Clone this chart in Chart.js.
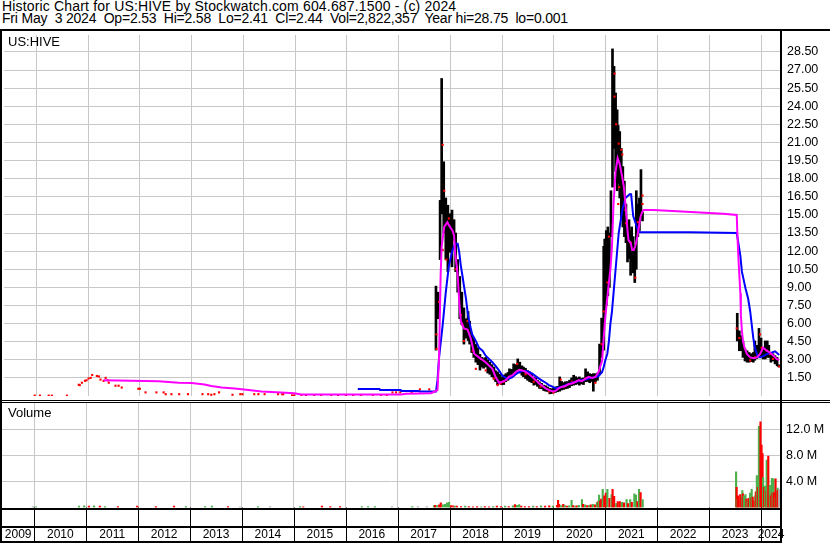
<!DOCTYPE html>
<html lang="en">
<head>
<meta charset="UTF-8">
<title>US:HIVE Historic Chart</title>
<script src="https://cdn.jsdelivr.net/npm/chart.js"></script>
<style>
  body { margin: 0; background: #fff; font-family: Arial, "Liberation Sans", sans-serif; }
  #page { position: relative; width: 830px; height: 543px; overflow: hidden; background: #fff; }
  .hdr { position: absolute; left: 2px; font-size: 14px; line-height: 13px; white-space: pre; color: #000; }
  .rule { position: absolute; background: #000; }
  .tag { position: absolute; left: 8px; color: #000; white-space: pre; font-size: 13px; }
  #priceBox { position: absolute; left: 0; top: 31px; width: 830px; height: 369px; }
  #volBox { position: absolute; left: 0; top: 403px; width: 830px; height: 140px; }
</style>
</head>
<body>
<div id="page">
  <div class="hdr" style="top:0;letter-spacing:0.17px">Historic Chart for US:HIVE by Stockwatch.com 604.687.1500 - (c) 2024</div>
  <div class="hdr" style="top:12px;letter-spacing:-0.2px">Fri May  3 2024  Op=2.53  Hi=2.58  Lo=2.41  Cl=2.44  Vol=2,822,357  Year hi=28.75  lo=0.001</div>

  <div id="priceBox"><canvas id="priceChart"></canvas></div>
  <div id="volBox"><canvas id="volChart"></canvas></div>

  <div class="tag" style="top:34px">US:HIVE</div>
  <div class="tag" style="top:405px">Volume</div>

  <!-- frame -->
  <div class="rule" style="left:0;top:29px;width:830px;height:2px"></div>
  <div class="rule" style="left:0;top:29px;width:2px;height:514px"></div>
  <div class="rule" style="left:780px;top:29px;width:2px;height:514px"></div>
  <div class="rule" style="left:0;top:400px;width:830px;height:1px"></div>
  <div class="rule" style="left:0;top:402px;width:830px;height:1px"></div>
  <div class="rule" style="left:0;top:508px;width:782px;height:2px"></div>
  <div class="rule" style="left:0;top:541px;width:782px;height:2px"></div>
</div>

<script>
// ---- data (dates are decimal years) ----
const yearLabels = [2009, 2010, 2011, 2012, 2013, 2014, 2015, 2016, 2017, 2018, 2019, 2020, 2021, 2022, 2023, 2024];
const yearGrid = [2010, 2011, 2012, 2013, 2014, 2015, 2016, 2017, 2018, 2019, 2020, 2021, 2022, 2023, 2024];
const priceTicks = [1.5, 3, 4.5, 6, 7.5, 9, 10.5, 12, 13.5, 15, 16.5, 18, 19.5, 21, 22.5, 24, 25.5, 27, 28.5];
const volTicks = [4, 8, 12];

// daily high-low bars
const barDates = [
  2017.72, 2017.76, 2017.80, 2017.83, 2017.87, 2017.91, 2017.95, 2017.99, 2018.03, 2018.07,
  2018.10, 2018.14, 2018.18, 2018.22, 2018.26, 2018.30, 2018.34, 2018.37, 2018.41, 2018.45,
  2018.49, 2018.53, 2018.57, 2018.61, 2018.64, 2018.68, 2018.72, 2018.76, 2018.80, 2018.84,
  2018.87, 2018.91, 2018.95, 2018.99, 2019.03,
  2019.07, 2019.11, 2019.14, 2019.18, 2019.22, 2019.26, 2019.30, 2019.34, 2019.38, 2019.41,
  2019.45, 2019.49, 2019.53, 2019.57, 2019.61, 2019.65, 2019.68, 2019.72, 2019.76, 2019.80,
  2019.84, 2019.88, 2019.92, 2019.95, 2019.99, 2020.03, 2020.07, 2020.11, 2020.15, 2020.19,
  2020.22, 2020.26, 2020.30, 2020.34, 2020.38, 2020.42, 2020.45, 2020.49, 2020.53, 2020.57,
  2020.61, 2020.65, 2020.69, 2020.72, 2020.76, 2020.80, 2020.84, 2020.88, 2020.92, 2020.96,
  2020.98, 2021.01, 2021.04, 2021.07, 2021.10, 2021.13, 2021.16, 2021.19, 2021.22, 2021.24,
  2021.27, 2021.30, 2021.33, 2021.36, 2021.39, 2021.42, 2021.45, 2021.48, 2021.50, 2021.53,
  2021.56, 2021.59, 2021.62, 2021.65, 2021.68, 2021.71,
  2023.54, 2023.58, 2023.61, 2023.65, 2023.69, 2023.73, 2023.77, 2023.81, 2023.85, 2023.88,
  2023.92, 2023.96, 2024.00, 2024.04, 2024.08, 2024.12, 2024.15, 2024.19, 2024.23, 2024.27,
  2024.31, 2024.34
];
const barLows = [
  3.8, 6.4, 11.3, 15.1, 13.5, 11.3, 10.3, 11.9, 10.7, 12.9,
  10.3, 8.6, 6.4, 5.9, 4.3, 4.8, 4.6, 4.3, 3.6, 3.2,
  2.8, 2.6, 2.15, 2.4, 2.3, 2.4, 1.9, 1.8, 1.6, 1.4,
  1.2, 0.93, 1.0, 0.93, 0.95,
  1.18, 1.3, 1.44, 1.5, 1.72, 1.8, 2.0, 1.9, 1.72, 1.6,
  1.44, 1.3, 1.18, 1.1, 0.9, 0.95, 0.8, 0.63, 0.6, 0.45,
  0.4, 0.37, 0.18, 0.2, 0.26, 0.3, 0.35, 0.4, 0.5, 0.55,
  0.6, 0.63, 0.7, 0.85, 0.9, 0.95, 1.0, 0.9, 1.0, 0.95,
  1.18, 1.2, 1.1, 1.2, 0.4, 1.18, 1.3, 1.85, 3.2, 3.8,
  6.5, 7.5, 8.3, 9.0, 13.2, 17.3, 20.5, 18.6, 17.0, 17.6,
  16.4, 14.8, 14.0, 13.2, 12.7, 11.1, 11.4, 10.0, 11.1, 10.2,
  9.4, 10.5, 13.2, 13.7, 14.8, 14.5,
  4.56, 3.75, 3.75, 3.2, 2.9, 2.8, 2.8, 2.85, 2.8, 2.96,
  3.1, 3.47, 3.34, 3.07, 3.07, 3.2, 3.2, 2.8, 2.9, 2.66,
  2.5, 2.41
];
const barHighs = [
  9.1, 8.6, 16.2, 26.3, 19.4, 16.4, 15.8, 15.1, 15.4, 14.6,
  13.5, 11.3, 9.9, 8.6, 7.3, 6.4, 7.0, 6.2, 5.2, 4.8,
  4.3, 4.0, 3.45, 3.2, 3.1, 3.2, 3.0, 2.8, 2.6, 2.4,
  2.1, 2.0, 1.8, 1.6, 1.74,
  1.85, 1.95, 2.25, 2.2, 2.66, 2.6, 3.07, 2.8, 2.5, 2.4,
  2.3, 2.1, 2.0, 1.8, 1.58, 1.5, 1.3, 1.18, 1.05, 0.9,
  0.85, 0.75, 0.63, 0.6, 0.65, 0.75, 0.8, 1.58, 1.2, 1.1,
  1.18, 1.2, 1.31, 1.5, 1.72, 1.6, 1.5, 1.58, 1.45, 1.5,
  2.25, 2.0, 1.85, 1.8, 1.85, 1.85, 1.9, 4.3, 6.45, 12.4,
  13.0, 13.7, 14.0, 13.5, 17.0, 28.75, 27.3, 25.1, 23.7, 22.4,
  21.9, 20.5, 19.0, 17.8, 15.9, 14.3, 14.6, 13.7, 14.0, 13.2,
  12.5, 17.0, 15.9, 16.4, 18.75, 15.2,
  6.85, 5.4, 5.0, 4.56, 3.9, 3.75, 3.6, 3.5, 3.6, 4.56,
  4.2, 5.6, 4.8, 4.0, 4.56, 4.56, 4.2, 3.6, 3.5, 3.34,
  3.2, 2.58
];

// closing prices (red ticks)
const closeDates = [
  2009.97, 2010.07, 2010.24, 2010.30, 2010.59, 2010.82, 2010.84, 2010.88, 2010.94, 2010.97,
  2011.01, 2011.05, 2011.08, 2011.17, 2011.21, 2011.24, 2011.30, 2011.34, 2011.38, 2011.40,
  2011.53, 2011.59, 2011.65, 2011.97, 2012.00, 2012.11, 2012.32, 2012.46, 2012.50, 2012.61,
  2012.76, 2012.93, 2013.21, 2013.32, 2013.38, 2013.44, 2013.53, 2013.79, 2013.94, 2013.98,
  2014.21, 2014.29, 2014.41, 2014.67, 2014.75, 2014.77, 2014.94, 2014.98, 2015.12, 2015.21,
  2015.37, 2015.50, 2015.70, 2015.83, 2015.98, 2016.12, 2016.27, 2016.50, 2016.66, 2016.77,
  2016.88, 2016.95, 2017.03, 2017.25, 2017.41, 2017.59,
  2017.73, 2017.73, 2017.78, 2017.85, 2017.85, 2017.88, 2017.92, 2017.97, 2018.10, 2018.20,
  2018.23, 2018.26, 2018.33, 2018.43, 2018.49, 2018.59, 2018.68, 2018.84, 2018.91, 2018.97,
  2019.03, 2019.23, 2019.29, 2019.45, 2019.61, 2019.74, 2019.90, 2019.99, 2020.13, 2020.19,
  2020.35, 2020.61, 2020.80, 2020.92, 2020.96, 2021.03, 2021.06, 2021.17, 2021.17, 2021.20,
  2021.25, 2021.30, 2021.32, 2021.26, 2021.24, 2021.38, 2021.39, 2021.48, 2021.57, 2021.64,
  2021.62, 2021.71, 2021.71,
  2023.53, 2023.58, 2023.79, 2023.88, 2023.98, 2024.01, 2024.11, 2024.17, 2024.23, 2024.35
];
const closeValues = [
  0.03, 0.03, 0.03, 0.03, 0.03, 0.93, 0.9, 1.1, 1.26, 1.3,
  1.45, 1.5, 1.74, 1.66, 1.62, 1.36, 1.25, 1.5, 1.3, 1.1,
  0.85, 0.85, 0.7, 0.6, 0.6, 0.3, 0.3, 0.3, 0.15, 0.15,
  0.15, 0.15, 0.15, 0.15, 0.1, 0.15, 0.3, 0.1, 0.15, 0.15,
  0.15, 0.15, 0.15, 0.15, 0.15, 0.15, 0.05, 0.05, 0.03, 0.03,
  0.03, 0.03, 0.03, 0.03, 0.03, 0.03, 0.03, 0.03, 0.03, 0.03,
  0.3, 0.3, 0.3, 0.3, 0.55, 0.55,
  5.1, 3.9, 7.8, 20.8, 12.1, 17.0, 11.3, 14.7, 10.5, 6.7,
  5.9, 4.56, 6.2, 3.75, 2.25, 3.07, 2.12, 1.44, 0.9, 1.04,
  1.18, 1.72, 2.66, 1.8, 1.18, 0.77, 0.37, 0.28, 1.36, 0.77,
  1.18, 1.44, 1.1, 4.3, 7.0, 9.4, 13.2, 26.7, 24.8, 22.5,
  20.9, 20.4, 20.0, 17.3, 15.9, 15.4, 14.3, 12.7, 9.8, 13.7,
  14.4, 16.6, 15.9,
  5.6, 4.8, 2.94, 3.2, 5.1, 4.0, 3.75, 3.47, 3.07, 2.44
];

// short moving average (magenta)
const maFastDates = [
  2011.30, 2012.36, 2012.75, 2013.00, 2013.25, 2013.38, 2013.58, 2013.83, 2014.10, 2014.35,
  2014.73, 2014.98, 2015.12, 2017.04, 2017.14, 2017.62, 2017.70, 2017.75, 2017.78, 2017.81,
  2017.83, 2017.88, 2017.94, 2017.97, 2018.04, 2018.07, 2018.09, 2018.12, 2018.14, 2018.17,
  2018.20, 2018.26, 2018.33, 2018.39, 2018.46, 2018.55, 2018.68, 2018.81, 2018.87, 2018.94,
  2019.00, 2019.07, 2019.13, 2019.20, 2019.26, 2019.33, 2019.39, 2019.45, 2019.52, 2019.58,
  2019.65, 2019.71, 2019.78, 2019.84, 2019.90, 2019.97, 2020.03, 2020.09, 2020.16, 2020.22,
  2020.29, 2020.35, 2020.42, 2020.48, 2020.54, 2020.61, 2020.67, 2020.74, 2020.80, 2020.86,
  2020.93, 2020.96, 2020.99, 2021.05, 2021.09, 2021.12, 2021.15, 2021.19, 2021.23, 2021.27,
  2021.32, 2021.35, 2021.38, 2021.40, 2021.42, 2021.44, 2021.48, 2021.51, 2021.54, 2021.57,
  2021.61, 2021.64, 2021.67, 2021.70, 2021.73, 2021.92, 2022.38, 2022.82, 2023.27, 2023.53,
  2023.54, 2023.56, 2023.60, 2023.61, 2023.63, 2023.65, 2023.68, 2023.73, 2023.79, 2023.86,
  2023.92, 2023.98, 2024.04, 2024.11, 2024.17, 2024.24, 2024.30, 2024.35
];
const maFastValues = [
  1.31, 1.23, 1.1, 1.07, 0.96, 0.83, 0.71, 0.63, 0.5, 0.37,
  0.28, 0.23, 0.12, 0.12, 0.18, 0.23, 0.37, 0.5, 3.2, 9.96,
  12.4, 14.0, 14.4, 14.15, 13.7, 13.3, 11.86, 10.8, 9.96, 7.8,
  6.2, 5.6, 5.5, 4.8, 3.5, 3.2, 2.8, 2.25, 1.6, 1.1,
  1.18, 1.31, 1.58, 1.72, 1.99, 2.17, 2.12, 1.99, 1.8, 1.58,
  1.31, 1.04, 0.83, 0.63, 0.5, 0.37, 0.42, 0.63, 0.77, 0.83,
  0.99, 1.04, 1.18, 1.31, 1.23, 1.44, 1.58, 1.5, 1.58, 1.99,
  2.94, 4.8, 6.45, 9.0, 10.5, 12.4, 15.9, 18.6, 19.7, 19.2,
  18.1, 17.3, 15.9, 14.8, 13.7, 12.9, 12.7, 12.1, 12.1, 12.4,
  13.2, 14.0, 14.8, 15.2, 15.4, 15.4, 15.3, 15.2, 15.1, 15.0,
  13.7, 11.6, 8.5, 6.7, 5.4, 4.56, 4.0, 3.47, 3.2, 3.12,
  3.2, 3.47, 4.0, 3.75, 3.6, 3.34, 3.07, 2.98
];

// long moving average (blue)
const maSlowDates = [
  2016.21, 2016.63, 2016.64, 2017.04, 2017.05, 2017.39, 2017.40, 2017.72, 2017.75, 2017.78,
  2017.85, 2017.91, 2017.97, 2018.04, 2018.09, 2018.14, 2018.17, 2018.20, 2018.23, 2018.26,
  2018.30, 2018.33, 2018.36, 2018.42, 2018.49, 2018.55, 2018.62, 2018.68, 2018.81, 2018.87,
  2018.94, 2019.00, 2019.07, 2019.13, 2019.20, 2019.26, 2019.33, 2019.39, 2019.45, 2019.52,
  2019.58, 2019.65, 2019.71, 2019.78, 2019.84, 2019.90, 2019.97, 2020.03, 2020.09, 2020.16,
  2020.22, 2020.29, 2020.35, 2020.42, 2020.54, 2020.67, 2020.80, 2020.86, 2020.93, 2020.96,
  2020.99, 2021.03, 2021.06, 2021.09, 2021.12, 2021.15, 2021.19, 2021.25, 2021.32, 2021.38,
  2021.46, 2021.49, 2021.53, 2021.57, 2021.62, 2021.66, 2022.63, 2023.53, 2023.56, 2023.60,
  2023.63, 2023.66, 2023.70, 2023.75, 2023.79, 2023.82, 2023.85, 2023.88, 2023.93, 2023.98,
  2024.04, 2024.11, 2024.21, 2024.27, 2024.33, 2024.35
];
const maSlowValues = [
  0.58, 0.58, 0.5, 0.5, 0.42, 0.42, 0.37, 0.37, 1.31, 3.2,
  5.9, 8.6, 10.8, 12.1, 12.6, 12.6, 11.9, 10.8, 10.0, 9.15,
  8.07, 7.0, 6.2, 5.1, 4.56, 4.0, 3.75, 3.34, 2.8, 2.5,
  2.1, 1.7, 1.5, 1.44, 1.58, 1.8, 1.99, 2.07, 2.07, 1.99,
  1.85, 1.64, 1.44, 1.26, 1.1, 0.9, 0.77, 0.63, 0.71, 0.77,
  0.9, 0.99, 1.1, 1.18, 1.31, 1.44, 1.58, 1.64, 1.99, 2.4,
  2.94, 3.5, 4.5, 6.0, 7.0, 8.5, 10.5, 13.5, 15.4, 16.4,
  16.7, 16.7, 14.9, 14.4, 13.75, 13.56, 13.56, 13.5, 12.7, 11.6,
  10.3, 9.7, 8.9, 8.07, 7.0, 5.9, 4.8, 4.0, 3.34, 3.2,
  3.3, 3.47, 3.6, 3.7, 3.47, 3.4
];

// volume in millions of shares, u = up day, d = down day, n = unchanged
const volDates = [
  2009.97, 2010.03, 2010.86, 2010.96, 2011.05, 2011.15, 2011.26, 2011.36, 2011.61, 2011.98,
  2012.34, 2012.69, 2012.92, 2013.29, 2013.42, 2013.73, 2013.96, 2014.31, 2014.54, 2015.12,
  2015.18, 2015.54, 2015.70, 2015.89, 2016.31, 2016.43, 2016.56, 2016.89, 2017.28, 2017.39,
  2017.56, 2017.70, 2017.72, 2017.76, 2017.80, 2017.83, 2017.87, 2017.91, 2017.95, 2017.99,
  2018.03, 2018.07, 2018.10, 2018.14, 2018.22, 2018.30, 2018.37, 2018.45, 2018.53, 2018.61,
  2018.68, 2018.76, 2018.84, 2018.91, 2018.99, 2019.07, 2019.14, 2019.22, 2019.26, 2019.30,
  2019.34, 2019.38, 2019.45, 2019.53, 2019.61, 2019.68, 2019.76, 2019.84, 2019.92, 2019.99,
  2020.07, 2020.09, 2020.11, 2020.15, 2020.19, 2020.22, 2020.26, 2020.30, 2020.35, 2020.38,
  2020.42, 2020.45, 2020.49, 2020.55, 2020.57, 2020.61, 2020.65, 2020.69, 2020.72, 2020.76,
  2020.80, 2020.84, 2020.87, 2020.88, 2020.90, 2020.92, 2020.95, 2020.98, 2021.01, 2021.04,
  2021.08, 2021.12, 2021.14, 2021.17, 2021.21, 2021.24, 2021.28, 2021.32, 2021.36, 2021.41,
  2021.44, 2021.48, 2021.51, 2021.56, 2021.59, 2021.62, 2021.65, 2021.68, 2021.72,
  2023.52, 2023.53, 2023.55, 2023.56, 2023.60, 2023.62, 2023.64, 2023.65, 2023.67, 2023.69,
  2023.70, 2023.72, 2023.74, 2023.76, 2023.79, 2023.81, 2023.82, 2023.84, 2023.87, 2023.89,
  2023.90, 2023.92, 2023.94, 2023.96, 2023.99, 2024.01, 2024.03, 2024.04, 2024.06, 2024.08,
  2024.10, 2024.11, 2024.13, 2024.14, 2024.16, 2024.17, 2024.19, 2024.21, 2024.22, 2024.24,
  2024.25, 2024.27, 2024.28, 2024.30, 2024.32, 2024.33, 2024.35
];
const volValues = [
  0.15, 0.12, 0.2, 0.25, 0.2, 0.25, 0.2, 0.15, 0.15, 0.2,
  0.15, 0.2, 0.15, 0.15, 0.2, 0.15, 0.1, 0.15, 0.15, 0.15,
  0.1, 0.2, 0.15, 0.15, 0.15, 0.15, 0.15, 0.15, 0.15, 0.15,
  0.15, 0.3, 0.35, 0.3, 0.4, 0.7, 0.4, 0.5, 0.7, 0.8,
  0.3, 0.25, 0.2, 0.2, 0.15, 0.2, 0.15, 0.1, 0.15, 0.1,
  0.15, 0.1, 0.15, 0.2, 0.15, 0.2, 0.15, 0.25, 0.45, 0.35,
  0.45, 0.2, 0.15, 0.15, 0.2, 0.15, 0.25, 0.2, 0.25, 0.2,
  0.35, 1.1, 0.5, 0.3, 0.5, 0.3, 0.2, 0.25, 1.1, 0.3,
  0.2, 0.25, 0.35, 1.2, 0.5, 0.4, 0.3, 0.35, 0.4, 0.5,
  0.4, 0.8, 1.0, 1.9, 1.0, 1.3, 2.8, 1.8, 2.2, 2.8,
  1.4, 2.0, 2.8, 1.7, 0.6, 0.9, 0.9, 0.8, 0.7, 1.2,
  0.6, 1.2, 0.8, 2.1, 1.9, 0.9, 2.8, 2.3, 1.2,
  5.5, 3.1, 1.2, 1.8, 2.0, 1.5, 2.6, 2.1, 1.8, 1.4,
  2.0, 1.3, 1.0, 1.4, 2.2, 1.5, 2.8, 1.6, 1.0, 1.8,
  2.4, 4.9, 3.1, 12.5, 13.2, 9.6, 8.3, 4.6, 3.1, 3.3,
  2.5, 7.3, 2.0, 7.9, 3.0, 3.4, 1.8, 4.5, 2.2, 4.4,
  2.3, 1.5, 4.4, 2.6, 3.0, 2.6, 2.8
];
const volDirs = [
  'n','u','u','u','d','u','d','u','d','d',
  'd','d','u','u','u','d','n','u','n','u',
  'd','d','d','d','u','u','u','n','u','n',
  'n','u','d','u','d','d','u','u','u','u',
  'd','d','u','d','d','u','d','d','d','u',
  'd','d','u','d','d','u','d','u','d','u',
  'u','d','d','d','u','d','u','d','d','u',
  'd','d','d','u','d','u','d','u','u','d',
  'u','d','u','u','d','u','d','u','d','u',
  'd','u','d','u','d','d','u','d','d','u',
  'd','u','d','d','u','d','d','u','d','u',
  'd','u','d','u','u','d','u','d','u',
  'u','d','u','d','d','d','u','d','u','u',
  'u','d','u','d','u','d','u','d','d','u',
  'd','u','d','u','d','d','d','u','d','u',
  'd','u','u','d','d','u','d','u','d','u',
  'd','u','d','d','u','d','n'
];

// ---- chart setup ----
const xMin = 2009.376, xMax = 2024.385;
const gridGrey = '#c8c8c8';
const axisFont = { family: 'Arial, "Liberation Sans", sans-serif', size: 12.5 };
const dirColour = { u: '#4cb04c', d: '#ff0000', n: '#b4b4b4' };

const toPoints = (xs, ys) => xs.map((x, i) => ({ x: x, y: ys[i] }));

function yearAxis() {
  return {
    type: 'linear', min: xMin, max: xMax, offset: false,
    afterBuildTicks: s => { s.ticks = yearGrid.map(v => ({ value: v })); },
    ticks: { display: false },
    grid: { color: gridGrey, lineWidth: 1, drawTicks: false, offset: false },
    border: { display: false }
  };
}

Chart.defaults.animation = false;

new Chart(document.getElementById('priceChart'), {
  type: 'bar',
  data: {
    datasets: [
      { type: 'line', label: 'MA short', data: toPoints(maFastDates, maFastValues),
        borderColor: '#ff00ff', borderWidth: 2, pointRadius: 0, tension: 0, order: 0 },
      { type: 'line', label: 'MA long', data: toPoints(maSlowDates, maSlowValues),
        borderColor: '#0000ff', borderWidth: 2, pointRadius: 0, tension: 0, order: 1 },
      { type: 'line', label: 'Close', data: toPoints(closeDates, closeValues), showLine: false,
        pointStyle: 'rect', pointRadius: 1.5, pointBackgroundColor: '#ff0000', pointBorderWidth: 0, order: 2 },
      { type: 'bar', label: 'High-Low', data: barDates.map((d, i) => ({ x: d, y: [barLows[i], barHighs[i]] })),
        backgroundColor: '#000', borderWidth: 0, barThickness: 2, order: 3 }
    ]
  },
  options: {
    responsive: true, maintainAspectRatio: false, devicePixelRatio: 1,
    layout: { padding: { left: 2, right: 0, top: 0, bottom: 0 } },
    plugins: { legend: { display: false }, tooltip: { enabled: false } },
    scales: {
      x: yearAxis(),
      y: {
        position: 'right', min: 0, max: 29.9,
        afterBuildTicks: s => { s.ticks = priceTicks.map(v => ({ value: v })); },
        afterFit: s => { s.width = 49; s.paddingTop = 0; s.paddingBottom = 0; },
        ticks: { padding: 6, color: '#000', font: axisFont, callback: v => v.toFixed(2) },
        grid: { color: gridGrey, drawTicks: false },
        border: { display: false }
      }
    }
  }
});

// year labels centred on the visible part of each year, separators at year starts
const yearStrip = {
  id: 'yearStrip',
  afterDraw(chart) {
    const { ctx, chartArea, scales } = chart;
    const x = scales.x;
    ctx.save();
    ctx.fillStyle = '#000';
    ctx.fillRect(0, 123, chartArea.right + 1, 2);
    yearGrid.forEach(yr => {
      const px = Math.round(x.getPixelForValue(yr));
      ctx.fillRect(px, chartArea.bottom, 1, chart.height - chartArea.bottom);
    });
    ctx.font = '12px Arial, "Liberation Sans", sans-serif';
    ctx.textAlign = 'center';
    ctx.textBaseline = 'middle';
    yearLabels.forEach(yr => {
      const l = Math.max(x.getPixelForValue(yr), chartArea.left);
      const r = Math.min(x.getPixelForValue(yr + 1), chartArea.right);
      if (r - l > 4) ctx.fillText(String(yr), (l + r) / 2, 132);
    });
    ctx.restore();
  }
};

new Chart(document.getElementById('volChart'), {
  type: 'bar',
  data: {
    datasets: [{
      label: 'Volume',
      data: toPoints(volDates, volValues),
      backgroundColor: volDirs.map(d => dirColour[d]),
      borderWidth: 0, barThickness: 1.5
    }]
  },
  options: {
    responsive: true, maintainAspectRatio: false, devicePixelRatio: 1,
    layout: { padding: { left: 2, right: 0, top: 0, bottom: 35.5 } },
    plugins: { legend: { display: false }, tooltip: { enabled: false } },
    scales: {
      x: yearAxis(),
      y: {
        position: 'right', min: 0, max: 16.08,
        afterBuildTicks: s => { s.ticks = volTicks.map(v => ({ value: v })); },
        afterFit: s => { s.width = 49; s.paddingTop = 0; s.paddingBottom = 0; },
        ticks: { padding: 5, color: '#000', font: axisFont, callback: v => v.toFixed(1) + ' M' },
        grid: { color: gridGrey, drawTicks: false },
        border: { display: false }
      }
    }
  },
  plugins: [yearStrip]
});
</script>
</body>
</html>
